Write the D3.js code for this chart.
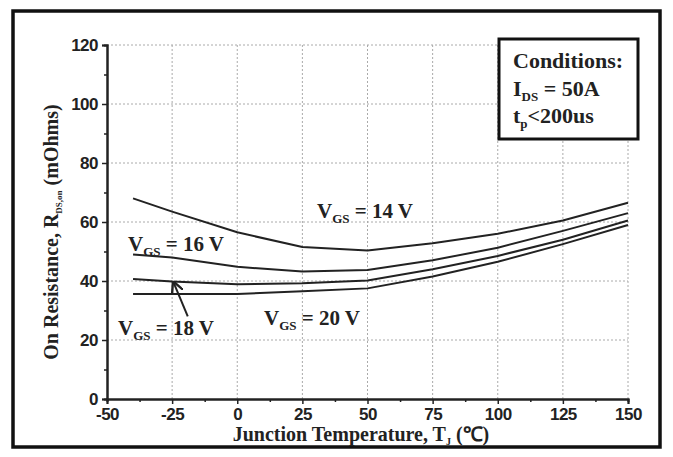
<!DOCTYPE html>
<html><head><meta charset="utf-8">
<script src="https://cdn.jsdelivr.net/npm/d3@7"></script>
<style>
body{margin:0;background:#fff;}
svg{display:block;}
text{font-family:"Liberation Serif","Times New Roman",serif;font-weight:bold;fill:#222;}
</style></head>
<body>
<svg id="c" width="673" height="457"></svg>
<script>
const temps = [-40, -25, 0, 25, 50, 75, 100, 125, 150];
const vgs14 = [68, 63.5, 56.5, 51.5, 50.3, 52.8, 56, 60.5, 66.5];
const vgs16 = [49, 48, 44.8, 43.2, 43.7, 47, 51.3, 57, 63];
const vgs18 = [40.7, 39.8, 38.9, 39.2, 40.2, 44, 48.5, 54, 60.5];
const vgs20 = [35.6, 35.6, 35.6, 36.5, 37.5, 41.5, 46.5, 52.5, 59];
const seriesNames = ["14", "16", "18", "20"];
const xTicks = [-50, -25, 0, 25, 50, 75, 100, 125, 150];
const yTicks = [0, 20, 40, 60, 80, 100, 120];

const svg = d3.select("#c");
const m = {l:107, r:628, t:45, b:399};
const x = d3.scaleLinear().domain([-50,150]).range([m.l, m.r]);
const y = d3.scaleLinear().domain([0,120]).range([m.b, m.t]);

// outer frame
svg.append("rect").attr("x",13).attr("y",11).attr("width",647).attr("height",436)
  .attr("fill","none").attr("stroke","#111").attr("stroke-width",3.5);

// grid
const g = svg.append("g");
g.selectAll(".gx").data(xTicks.slice(1)).join("line")
  .attr("x1",d=>x(d)).attr("x2",d=>x(d)).attr("y1",m.t).attr("y2",m.b)
  .attr("stroke","#aaa").attr("stroke-width",1).attr("stroke-dasharray","2,2");
g.selectAll(".gy").data(yTicks.slice(1)).join("line")
  .attr("x1",m.l).attr("x2",m.r).attr("y1",d=>y(d)).attr("y2",d=>y(d))
  .attr("stroke","#aaa").attr("stroke-width",1).attr("stroke-dasharray","2,2");

// axes
const fmt = d => String(d);
const xAxis = d3.axisBottom(x).tickValues(xTicks).tickSize(5).tickPadding(4).tickFormat(fmt);
const xMinor = d3.axisBottom(x).tickValues(d3.range(-37.5,150,25)).tickSize(3).tickFormat("");
const yAxis = d3.axisLeft(y).tickValues(yTicks).tickSize(5).tickPadding(4).tickFormat(fmt);
const yMinor = d3.axisLeft(y).tickValues(d3.range(10,120,20)).tickSize(3).tickFormat("");

function styleAxis(sel){
  sel.select(".domain").attr("stroke","#222").attr("stroke-width",2);
  sel.selectAll(".tick line").attr("stroke","#222").attr("stroke-width",1.5);
  sel.selectAll("text").attr("font-size",17).attr("fill","#2a2a2a")
     .style("font-family","'Liberation Sans',Arial,sans-serif").attr("font-weight","bold")
     .attr("letter-spacing",-0.5);
}
svg.append("g").attr("transform",`translate(0,${m.b})`).call(xMinor).call(styleAxis);
svg.append("g").attr("transform",`translate(0,${m.b})`).call(xAxis).call(styleAxis);
svg.append("g").attr("transform",`translate(${m.l},0)`).call(yMinor).call(styleAxis);
svg.append("g").attr("transform",`translate(${m.l},0)`).call(yAxis).call(styleAxis);

// lines
const allSeries = [vgs14, vgs16, vgs18, vgs20];
const line = d3.line().x((d,i)=>x(temps[i])).y(d=>y(d));
svg.selectAll(".series").data(allSeries).join("path")
  .attr("d",line).attr("fill","none").attr("stroke","#222").attr("stroke-width",2)
  .attr("stroke-linejoin","round");

// annotation labels
function vLabel(px, py, val){
  const t = svg.append("text").attr("x",px).attr("y",py).attr("font-size",21);
  t.append("tspan").text("V");
  t.append("tspan").attr("font-size",13).attr("dy",5).text("GS");
  t.append("tspan").attr("dy",-5).text(" = " + val + " V");
}
vLabel(317, 218, seriesNames[0]);
vLabel(128, 251, seriesNames[1]);
vLabel(118, 335, seriesNames[2]);
vLabel(264, 325, seriesNames[3]);

// arrow
svg.append("defs").append("marker").attr("id","ah").attr("viewBox","0 0 10 10")
  .attr("refX",9).attr("refY",5).attr("markerWidth",6).attr("markerHeight",6).attr("orient","auto")
  .append("path").attr("d","M0,0 L10,5 L0,10").attr("fill","none").attr("stroke","#222").attr("stroke-width",2);
svg.append("line").attr("x1",x(-19)).attr("y1",y(28)).attr("x2",x(-24.5)).attr("y2",y(39.6))
  .attr("stroke","#222").attr("stroke-width",2).attr("marker-end","url(#ah)");

// conditions box
svg.append("rect").attr("x",499).attr("y",39).attr("width",139).attr("height",100)
  .attr("fill","#fff").attr("stroke","#111").attr("stroke-width",3);
svg.append("text").attr("x",513).attr("y",68).attr("font-size",22).text("Conditions:");
const t2 = svg.append("text").attr("x",513).attr("y",96).attr("font-size",22);
t2.append("tspan").text("I");
t2.append("tspan").attr("font-size",13).attr("dy",5).text("DS");
t2.append("tspan").attr("dy",-5).text(" = 50A");
const t3 = svg.append("text").attr("x",513).attr("y",123).attr("font-size",22);
t3.append("tspan").text("t");
t3.append("tspan").attr("font-size",13).attr("dy",5).text("p");
t3.append("tspan").attr("dy",-5).text("<200us");

// axis titles
const xt = svg.append("text").attr("x",361).attr("y",441).attr("text-anchor","middle").attr("font-size",20);
xt.append("tspan").text("Junction Temperature, T");
xt.append("tspan").attr("font-size",10).attr("dy",4).text("J");
xt.append("tspan").attr("dy",-4).text(" (\u2103)");

const yt = svg.append("text").attr("transform","translate(58,232) rotate(-90)").attr("text-anchor","middle").attr("font-size",20);
yt.append("tspan").text("On Resistance, R");
yt.append("tspan").attr("font-size",9).attr("dy",4).text("DS,on");
yt.append("tspan").attr("dy",-4).text(" (mOhms)");
</script>
</body></html>
